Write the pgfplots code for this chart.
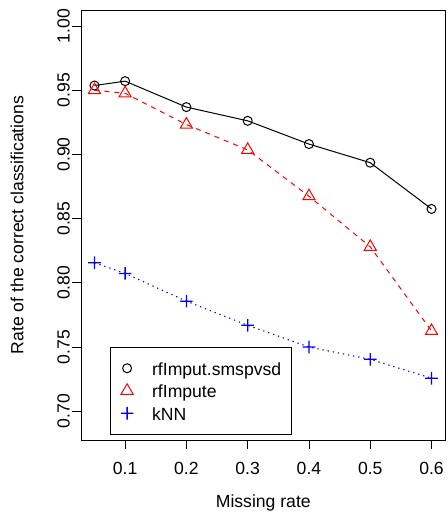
\documentclass[border=0pt]{standalone}
\usepackage{pgfplots}
\pgfplotsset{compat=1.18}
\usepackage{fontspec}
\setmainfont{Liberation Sans}
\pgfdeclareplotmark{bplus}{%
  \pgfpathrectangle{\pgfqpoint{-\pgfplotmarksize}{-0.65bp}}{\pgfqpoint{2\pgfplotmarksize}{1.3bp}}%
  \pgfpathrectangle{\pgfqpoint{-0.65bp}{-\pgfplotmarksize}}{\pgfqpoint{1.3bp}{2\pgfplotmarksize}}%
  \pgfsetfillcolor{blue}%
  \pgfusepathqfill}
\begin{document}
\fontsize{17.6bp}{21bp}\selectfont
\begin{tikzpicture}
\begin{axis}[
  at={(0,0)}, anchor=south west,
  scale only axis,
  width=364bp, height=430bp,
  xmin=0.028, xmax=0.622,
  ymin=0.6776, ymax=1.0124,
  axis line style={line width=0.8bp},
  xtick={0.1,0.2,0.3,0.4,0.5,0.6},
  ytick={0.70,0.75,0.80,0.85,0.90,0.95,1.00},
  xticklabels={0.1,0.2,0.3,0.4,0.5,0.6},
  yticklabels={0.70,0.75,0.80,0.85,0.90,0.95,1.00},
  tick align=outside,
  major tick length=9bp,
  tick style={line width=0.8bp, black},
  xtick pos=bottom, ytick pos=left,
  xticklabel style={anchor=north, inner sep=0pt},
  yticklabel style={rotate=90, anchor=south, inner sep=0pt},
  xticklabel shift=12.7bp,
  yticklabel shift=2bp,
  legend style={at={(axis description cs:0.0797,0.0116)}, anchor=south west,
    draw=black, line width=0.8bp, inner xsep=5bp, inner ysep=10.4bp,
    row sep=0.6bp,
    nodes={inner xsep=5bp, inner ysep=0pt, text height=17.9bp, text depth=4bp}},
  legend cell align=left,
  legend image code/.code={\path[draw=none,fill=none] (0bp,0bp) -- (31.7bp,0bp); \draw[#1] plot coordinates {(11.7bp,0bp)};},
]
\addplot[black, line width=1bp, mark=o, mark size=4.5bp, mark options={solid}, forget plot]
coordinates {(0.05,0.9536) (0.1,0.957) (0.2,0.9368) (0.3,0.9261) (0.4,0.908) (0.5,0.8935) (0.6,0.8575)};
\addplot[red, line width=1bp, dash pattern=on 5bp off 5bp, mark=triangle, mark size=7bp, mark options={solid}, forget plot]
coordinates {(0.05,0.950) (0.1,0.9475) (0.2,0.9232) (0.3,0.9035) (0.4,0.8674) (0.5,0.828) (0.6,0.7625)};
\addplot[blue, line width=1.1bp, dash pattern=on 1.3bp off 3.9bp, forget plot]
coordinates {(0.05,0.8156) (0.1,0.8073) (0.2,0.7857) (0.3,0.7669) (0.4,0.750) (0.5,0.7404) (0.6,0.7257)};
\addplot[blue, fill=blue, only marks, mark=bplus, mark size=6.3bp, forget plot]
coordinates {(0.05,0.8156) (0.1,0.8073) (0.2,0.7857) (0.3,0.7669) (0.4,0.750) (0.5,0.7404) (0.6,0.7257)};
\addlegendimage{black, line width=1bp, only marks, mark=o, mark size=4.5bp}
\addlegendentry{rfImput.smspvsd}
\addlegendimage{red, line width=1bp, only marks, mark=triangle, mark size=7bp}
\addlegendentry{rfImpute}
\addlegendimage{blue, fill=blue, only marks, mark=bplus, mark size=6.3bp}
\addlegendentry{kNN}
\end{axis}
\node[rotate=90, anchor=base] at (-57.7bp,215bp) {Rate of the correct classifications};
\node[anchor=base] at (182.3bp,-67.5bp) {Missing rate};
\pgfresetboundingbox
\path[use as bounding box] (-81bp,-72bp) rectangle (367bp,440bp);
\end{tikzpicture}
\end{document}
